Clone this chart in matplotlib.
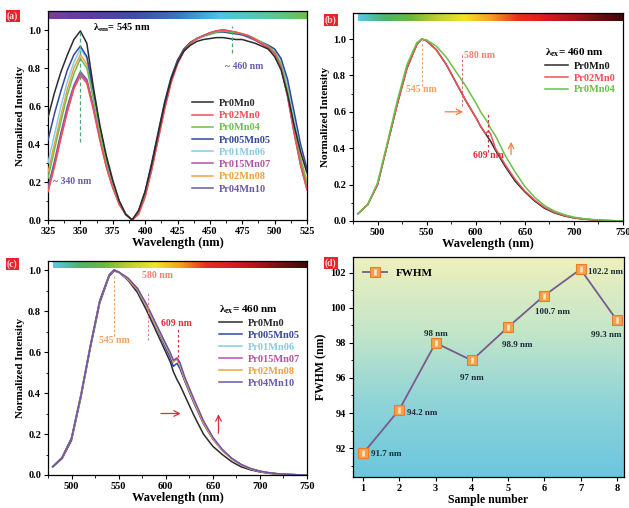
"""Excitation / emission spectra of Pr/Mn co-doped samples and FWHM trend."""

import matplotlib.pyplot as plt
from matplotlib.colors import LinearSegmentedColormap

plt.rcParams["font.family"] = ["Liberation Serif", "DejaVu Serif"]
plt.rcParams["font.weight"] = "bold"
plt.rcParams["axes.labelweight"] = "bold"
plt.rcParams["mathtext.fontset"] = "custom"
plt.rcParams["mathtext.rm"] = "Liberation Serif:bold"
plt.rcParams["mathtext.it"] = "Liberation Serif:bold"
plt.rcParams["mathtext.bf"] = "Liberation Serif:bold"

# ---- panel (a): excitation spectra, lambda_em = 545 nm ----
EX_WL = [325, 330, 335, 340, 345, 350, 355, 360, 365, 370, 375, 380, 385, 390,
         395, 400, 405, 410, 415, 420, 425, 430, 435, 440, 445, 450, 455, 460,
         465, 470, 475, 480, 485, 490, 495, 500, 505, 510, 515, 520, 525]
EX_PR0MN0 = [.54, .67, .78, .87, .95, .995, .93, .70, .50, .34, .21, .10, .03, .00,
             .05, .15, .29, .45, .61, .74, .83, .89, .92, .94, .95, .955, .96, .96,
             .955, .95, .95, .94, .93, .915, .90, .86, .79, .66, .50, .36, .25]
EX_PR02MN0 = [.15, .28, .43, .57, .69, .76, .72, .58, .42, .28, .17, .08, .03, .00,
              .03, .12, .26, .42, .58, .72, .82, .89, .93, .955, .97, .985, .995, 1.0,
              .995, .99, .98, .97, .95, .93, .91, .875, .80, .65, .46, .29, .16]
EX_PR0MN04 = [.22, .37, .52, .66, .77, .85, .80, .64, .46, .30, .18, .09, .03, .00,
              .04, .13, .27, .43, .59, .73, .83, .89, .93, .955, .97, .98, .99, .995,
              .99, .985, .98, .97, .955, .935, .915, .885, .82, .68, .49, .32, .19]
EX_PR005MN05 = [.42, .56, .68, .79, .87, .915, .86, .68, .49, .32, .20, .10, .03, .00,
                .05, .15, .30, .46, .62, .75, .84, .90, .935, .955, .97, .98, .99, .99,
                .985, .98, .975, .965, .95, .935, .92, .90, .85, .74, .57, .40, .27]
EX_PR01MN06 = [.30, .45, .60, .73, .83, .90, .85, .67, .48, .31, .19, .09, .03, .00,
               .04, .13, .27, .43, .59, .73, .83, .89, .93, .95, .965, .975, .985, .99,
               .985, .98, .975, .965, .95, .935, .92, .90, .84, .72, .53, .36, .24]
EX_PR015MN07 = [.15, .29, .44, .58, .70, .77, .73, .59, .43, .28, .17, .09, .03, .00,
                .04, .13, .27, .43, .59, .73, .83, .89, .93, .955, .97, .985, .995, 1.0,
                .995, .985, .975, .96, .945, .925, .905, .875, .80, .65, .46, .29, .16]
EX_PR02MN08 = [.25, .40, .55, .69, .80, .87, .82, .65, .47, .30, .18, .09, .03, .00,
               .04, .13, .27, .43, .59, .73, .83, .89, .93, .955, .97, .98, .99, .995,
               .99, .98, .975, .965, .95, .93, .91, .88, .82, .68, .50, .33, .20]
EX_PR04MN10 = [.17, .31, .46, .60, .71, .78, .74, .60, .44, .29, .18, .09, .03, .00,
               .04, .14, .28, .44, .60, .74, .84, .90, .935, .955, .97, .985, .995, 1.0,
               .995, .985, .975, .965, .95, .93, .91, .88, .81, .66, .47, .30, .18]

# ---- panel (b): emission, lambda_ex = 460 nm ----
EM_WL_B = [480, 490, 500, 510, 520, 530, 540, 545, 550, 560, 570, 580, 590, 600,
           605, 610, 613, 615, 620, 630, 640, 650, 660, 670, 680, 690, 700, 710,
           720, 730, 740, 750]
EM_B_PR0MN0 = [.04, .09, .20, .42, .64, .84, .97, 1.0, .99, .94, .86, .76, .66, .57,
               .52, .48, .455, .44, .39, .30, .22, .16, .11, .07, .045, .028, .017, .01,
               .006, .003, .0015, .0]
EM_B_PR02MN0 = [.04, .09, .20, .42, .64, .84, .97, 1.0, .99, .94, .86, .76, .66, .57,
                .52, .48, .495, .48, .40, .31, .23, .165, .115, .075, .048, .03, .018, .011,
                .006, .003, .0015, .0]
EM_B_PR0MN04 = [.04, .09, .21, .43, .66, .86, .98, 1.0, .995, .96, .90, .82, .74, .65,
                .60, .56, .535, .51, .47, .36, .27, .19, .13, .085, .055, .035, .021, .013,
                .008, .004, .002, .001]

# ---- panel (c): emission, lambda_ex = 460 nm ----
EM_WL_C = [480, 490, 500, 510, 520, 530, 540, 545, 550, 560, 570, 580, 590, 600,
           605, 608, 612, 615, 620, 630, 640, 650, 660, 670, 680, 690, 700, 710,
           720, 730, 740, 750]
EM_C_PR0MN0 = [.04, .08, .17, .38, .62, .84, .97, .995, .99, .95, .89, .80, .70, .60,
               .55, .505, .465, .44, .39, .29, .20, .14, .10, .065, .04, .025, .015, .008,
               .004, .002, .001, .0]
EM_C_PR005MN05 = [.04, .085, .18, .39, .63, .85, .975, 1.0, .99, .955, .90, .815, .72, .62,
                  .57, .53, .545, .52, .46, .35, .25, .175, .12, .08, .05, .03, .018, .01,
                  .005, .003, .001, .0]
EM_C_PR01MN06 = [.04, .085, .18, .39, .63, .85, .975, 1.0, .99, .955, .905, .82, .725, .63,
                 .59, .56, .565, .54, .47, .36, .26, .18, .12, .08, .05, .03, .018, .01,
                 .005, .003, .001, .0]
EM_C_PR015MN07 = [.04, .085, .18, .39, .63, .85, .975, 1.0, .99, .96, .91, .825, .73, .64,
                  .59, .555, .57, .545, .475, .36, .26, .18, .122, .08, .05, .03, .018, .01,
                  .005, .003, .001, .0]
EM_C_PR02MN08 = [.04, .085, .18, .39, .63, .85, .975, 1.0, .99, .955, .905, .82, .725, .635,
                 .585, .55, .565, .54, .47, .36, .255, .178, .12, .08, .05, .03, .018, .01,
                 .005, .003, .001, .0]
EM_C_PR04MN10 = [.04, .085, .18, .39, .63, .85, .975, 1.0, .99, .96, .91, .83, .735, .64,
                 .595, .56, .57, .55, .48, .37, .265, .185, .125, .082, .052, .032, .019, .011,
                 .006, .003, .001, .0]

# ---- panel (d): FWHM ----
SAMPLES = [1, 2, 3, 4, 5, 6, 7, 8]
FWHM = [91.7, 94.2, 98.0, 97.0, 98.9, 100.7, 102.2, 99.3]
FWHM_LABELS = ["91.7 nm", "94.2 nm", "98 nm", "97 nm", "98.9 nm", "100.7 nm", "102.2 nm", "99.3 nm"]

COLORS = {
    "Pr0Mn0": "#2b2b2b",
    "Pr02Mn0": "#f0505a",
    "Pr0Mn04": "#6cc04a",
    "Pr005Mn05": "#34489a",
    "Pr01Mn06": "#86cce4",
    "Pr015Mn07": "#b452a8",
    "Pr02Mn08": "#f4a040",
    "Pr04Mn10": "#6a58aa",
}

UV_BAR = ["#7d3c98", "#5a3f9e", "#3f4ea4", "#3a78bc", "#4ec5e6", "#5cc6a8", "#6cc04c"]
VIS_BAR = ["#5ac8ec", "#4cb46c", "#6cb83c", "#c0d030", "#f4e424", "#f4a020",
           "#e83020", "#dc1c20", "#b01418", "#701010", "#3c0a0a"]
BG_D = ["#6cc6de", "#8ed4d8", "#c4e6c8", "#eef0bc"]

FIG_W, FIG_H = 629, 508
LW = 1.1


def rect(left, top, right, bottom):
    return [left / FIG_W, 1 - bottom / FIG_H, (right - left) / FIG_W, (bottom - top) / FIG_H]


def color_strip(ax, colors, x0, x1, y0, y1):
    cmap = LinearSegmentedColormap.from_list("strip", colors)
    ax.imshow([[i / 255 for i in range(256)]], cmap=cmap, aspect="auto",
              extent=[x0, x1, y0, y1], zorder=0)


def style_axis(ax):
    ax.tick_params(which="both", direction="out", labelsize=7.5, top=False, right=False)
    ax.tick_params(which="major", length=3, width=0.8, pad=2)
    ax.tick_params(which="minor", length=1.8, width=0.6)
    for spine in ax.spines.values():
        spine.set_linewidth(0.9)


def panel_label(fig, x, y, text):
    fig.text(x / FIG_W, 1 - y / FIG_H, text, fontsize=7, color="#ffd8d8",
             ha="left", va="center",
             bbox=dict(boxstyle="square,pad=0.15", facecolor="#e8232a", edgecolor="none"))


def color_legend(leg):
    for text, line in zip(leg.get_texts(), leg.get_lines()):
        text.set_color(line.get_color())


fig = plt.figure(figsize=(FIG_W / 100, FIG_H / 100), dpi=100)

# (a)
ax = fig.add_axes(rect(48, 11, 307, 220))
ex_series = [
    ("Pr0Mn0", EX_PR0MN0), ("Pr02Mn0", EX_PR02MN0), ("Pr0Mn04", EX_PR0MN04),
    ("Pr005Mn05", EX_PR005MN05), ("Pr01Mn06", EX_PR01MN06), ("Pr015Mn07", EX_PR015MN07),
    ("Pr02Mn08", EX_PR02MN08), ("Pr04Mn10", EX_PR04MN10),
]
for i, (name, vals) in enumerate(ex_series):
    ax.plot(EX_WL, vals, color=COLORS[name], lw=LW, label=name, zorder=10 - i)
color_strip(ax, UV_BAR, 325, 525, 1.058, 1.1)
ax.set_xlim(325, 525)
ax.set_ylim(0, 1.1)
ax.set_xticks(range(325, 526, 25))
ax.set_xticks([325 + 12.5 * k for k in range(17)], minor=True)
ax.set_yticks([0, 0.2, 0.4, 0.6, 0.8, 1.0])
ax.set_yticks([0.1, 0.3, 0.5, 0.7, 0.9], minor=True)
ax.set_yticklabels(["0.0", "0.2", "0.4", "0.6", "0.8", "1.0"])
ax.set_xlabel("Wavelength (nm)", fontsize=9, labelpad=1)
ax.set_ylabel("Normalized Intensity", fontsize=8, labelpad=2)
ax.plot([350, 350], [0.41, 1.0], ls=(0, (3, 2)), color="#4aa87a", lw=0.9, zorder=20)
ax.plot([467, 467], [0.88, 1.02], ls=(0, (3, 2)), color="#4aa87a", lw=0.9, zorder=20)
ax.text(360, 1.01, r"$\lambda_{em}$= 545 nm", fontsize=7.5, va="center")
ax.text(462, 0.81, "~ 460 nm", fontsize=7, color="#6a5ab0", va="center")
ax.text(329, 0.205, "~ 340 nm", fontsize=7, color="#6a5ab0", va="center")
leg = ax.legend(loc="upper left", bbox_to_anchor=(0.54, 0.6), frameon=False,
                fontsize=7.5, handlelength=2.0, labelspacing=0.28, handletextpad=0.6,
                borderaxespad=0)
color_legend(leg)
style_axis(ax)

# (b)
ax = fig.add_axes(rect(353, 13, 623, 221))
for name, vals in [("Pr0Mn0", EM_B_PR0MN0), ("Pr02Mn0", EM_B_PR02MN0), ("Pr0Mn04", EM_B_PR0MN04)]:
    ax.plot(EM_WL_B, vals, color=COLORS[name], lw=LW, label=name)
color_strip(ax, VIS_BAR, 480, 750, 1.10, 1.143)
ax.set_xlim(480, 750)
ax.set_ylim(0, 1.143)
ax.set_xticks(range(500, 751, 50))
ax.set_xticks(range(475, 751, 25), minor=True)
ax.set_yticks([0, 0.2, 0.4, 0.6, 0.8, 1.0])
ax.set_yticks([0.1, 0.3, 0.5, 0.7, 0.9], minor=True)
ax.set_yticklabels(["0.0", "0.2", "0.4", "0.6", "0.8", "1.0"])
ax.set_xlabel("Wavelength (nm)", fontsize=9, labelpad=1)
ax.set_ylabel("Normalized Intensity", fontsize=8, labelpad=2)
ax.plot([545, 545], [0.74, 0.99], ls=(0, (2, 2)), color="#f09a60", lw=0.8)
ax.plot([586, 586], [0.63, 0.92], ls=(0, (2, 2)), color="#e06060", lw=0.8)
ax.plot([613, 613], [0.38, 0.6], ls=(0, (2, 2)), color="#d03040", lw=0.9)
ax.text(545, 0.72, "545 nm", fontsize=7, color="#f4a060", ha="center", va="center")
ax.text(588, 0.91, "580 nm", fontsize=7, color="#f08070", ha="left", va="center")
ax.text(613, 0.36, "609 nm", fontsize=7, color="#e03040", ha="center", va="center")
ax.annotate("", xy=(590, 0.6), xytext=(566, 0.6),
            arrowprops=dict(arrowstyle="->", color="#f08040", lw=0.9))
ax.annotate("", xy=(636, 0.45), xytext=(636, 0.35),
            arrowprops=dict(arrowstyle="->", color="#f08040", lw=0.9))
leg = ax.legend(loc="upper right", bbox_to_anchor=(0.99, 0.86), frameon=False,
                fontsize=7.5, handlelength=2.2, labelspacing=0.25, handletextpad=0.6,
                title=r"$\lambda_{ex}$= 460 nm", title_fontsize=8, borderaxespad=0)
leg._legend_box.align = "left"
color_legend(leg)
leg.get_texts()[0].set_color("#1a1a1a")
style_axis(ax)

# (c)
ax = fig.add_axes(rect(48, 261, 307, 475))
em_c = [
    ("Pr0Mn0", EM_C_PR0MN0), ("Pr005Mn05", EM_C_PR005MN05), ("Pr01Mn06", EM_C_PR01MN06),
    ("Pr015Mn07", EM_C_PR015MN07), ("Pr02Mn08", EM_C_PR02MN08), ("Pr04Mn10", EM_C_PR04MN10),
]
for name, vals in em_c:
    ax.plot(EM_WL_C, vals, color=COLORS[name], lw=LW, label=name)
color_strip(ax, VIS_BAR, 480, 750, 1.01, 1.044)
ax.set_xlim(480, 750)
ax.set_ylim(0, 1.044)
ax.set_xticks(range(500, 751, 50))
ax.set_xticks(range(475, 751, 25), minor=True)
ax.set_yticks([0, 0.2, 0.4, 0.6, 0.8, 1.0])
ax.set_yticks([0.1, 0.3, 0.5, 0.7, 0.9], minor=True)
ax.set_yticklabels(["0.0", "0.2", "0.4", "0.6", "0.8", "1.0"])
ax.set_xlabel("Wavelength (nm)", fontsize=9, labelpad=1)
ax.set_ylabel("Normalized Intensity", fontsize=8, labelpad=2)
ax.plot([545, 545], [0.68, 0.98], ls=(0, (2, 2)), color="#f09a60", lw=0.8)
ax.plot([581, 581], [0.66, 0.9], ls=(0, (2, 2)), color="#e08080", lw=0.8)
ax.plot([613, 613], [0.55, 0.71], ls=(0, (2, 2)), color="#d03040", lw=0.9)
ax.text(545, 0.655, "545 nm", fontsize=7, color="#f4a060", ha="center", va="center")
ax.text(591, 0.975, "580 nm", fontsize=7, color="#f08070", ha="center", va="center")
ax.text(611, 0.74, "609 nm", fontsize=7, color="#e03040", ha="center", va="center")
ax.annotate("", xy=(619, 0.3), xytext=(592, 0.3),
            arrowprops=dict(arrowstyle="->", color="#d83040", lw=0.9))
ax.annotate("", xy=(656, 0.31), xytext=(656, 0.19),
            arrowprops=dict(arrowstyle="->", color="#d83040", lw=0.9))
leg = ax.legend(loc="upper right", bbox_to_anchor=(0.99, 0.82), frameon=False,
                fontsize=7.5, handlelength=2.2, labelspacing=0.25, handletextpad=0.6,
                title=r"$\lambda_{ex}$= 460 nm", title_fontsize=8, borderaxespad=0)
leg._legend_box.align = "left"
color_legend(leg)
style_axis(ax)

# (d)
ax = fig.add_axes(rect(353, 257, 624, 477))
ax.set_xlim(0.72, 8.2)
ax.set_ylim(90.35, 102.9)
bg = LinearSegmentedColormap.from_list("bg", BG_D)
ax.imshow([[v / 255] for v in range(256)], cmap=bg, aspect="auto", origin="lower",
          extent=[0.72, 8.2, 90.35, 102.9], zorder=0)
line, = ax.plot(SAMPLES, FWHM, color="#7a5a8e", lw=1.3, marker="s", ms=7,
                mfc="#f4a04c", mec="#ec7c2c", mew=0.8, zorder=3)
stripe, = ax.plot(SAMPLES, FWHM, ls="none", marker="|", ms=5, mew=1.8,
                  color="#fde9c8", zorder=4)
label_pos = [(1.22, 91.66, "left"), (2.2, 94.0, "left"), (3.0, 98.5, "center"),
             (4.0, 96.0, "center"), (5.25, 97.9, "center"), (6.24, 99.75, "center"),
             (7.2, 102.05, "left"), (7.72, 98.45, "center")]
for (x, y, ha), text in zip(label_pos, FWHM_LABELS):
    ax.text(x, y, text, fontsize=6.5, color="#1c2c3a", ha=ha, va="center", zorder=5)
ax.legend([(line, stripe)], ["FWHM"], loc="upper left", bbox_to_anchor=(0.02, 0.97),
          frameon=False, fontsize=8, handlelength=2.2, borderaxespad=0)
ax.set_xticks(SAMPLES)
ax.set_yticks([92, 94, 96, 98, 100, 102])
ax.set_yticks([91, 93, 95, 97, 99, 101], minor=True)
ax.set_xlabel("Sample number", fontsize=8.5, labelpad=1)
ax.set_ylabel("FWHM (nm)", fontsize=8.5, labelpad=2)
style_axis(ax)

panel_label(fig, 7, 16, "(a)")
panel_label(fig, 325, 20, "(b)")
panel_label(fig, 7, 264, "(c)")
panel_label(fig, 325, 263, "(d)")

fig.savefig("out.png", dpi=100)
